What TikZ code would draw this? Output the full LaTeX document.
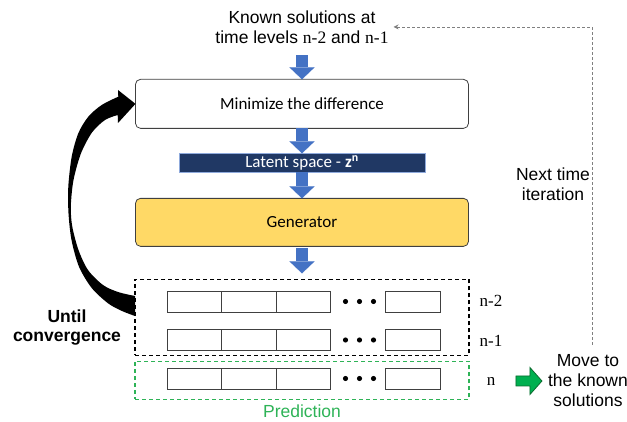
\documentclass[tikz,border=0pt]{standalone}
\usepackage{fontspec}
\setmainfont{Liberation Sans}
\newfontfamily\calibrifont{Carlito}
\newfontfamily\timesfont{Liberation Serif}
\usepackage{tikz}
\usetikzlibrary{arrows.meta,positioning,calc}
\definecolor{flowblue}{HTML}{4472C4}
\definecolor{latentnavy}{HTML}{203864}
\definecolor{latentedge}{HTML}{8FAADC}
\definecolor{genyellow}{HTML}{FFD966}
\definecolor{boxedge}{HTML}{404040}
\definecolor{predgreen}{HTML}{2EB357}
\definecolor{gofill}{HTML}{00B050}
\definecolor{goedge}{HTML}{0B6B2E}
\definecolor{itergray}{HTML}{808080}

\begin{document}
\begin{tikzpicture}[
  x=1pt, y=1pt,
  node distance=25pt,
  txt/.style={inner sep=0pt, outer sep=0pt, align=center, font=\fontsize{17.5}{20}\selectfont},
  procbox/.style={rectangle, draw=boxedge, line width=0.8pt, rounded corners=5pt, minimum width=333pt, inner sep=0pt, outer sep=0pt, font=\calibrifont\fontsize{17}{20}\selectfont},
  latentbar/.style={rectangle, draw=latentedge, line width=0.6pt, fill=latentnavy, text=white, minimum width=246pt, minimum height=19pt, inner sep=0pt, outer sep=0pt, font=\calibrifont\fontsize{17}{20}\selectfont},
  solframe/.style={rectangle, dash pattern=on 4pt off 3pt, line width=1.2pt, minimum width=334pt, inner sep=0pt, outer sep=0pt},
  slot/.style={rectangle, draw=boxedge, line width=0.9pt, minimum width=54.6pt, minimum height=21pt, inner sep=0pt, outer sep=0pt},
  lvl/.style={inner sep=0pt, anchor=base, font=\timesfont\fontsize{17}{20}\selectfont},
  flow/.style={draw=flowblue, line width=12pt, -{Triangle[length=12pt, width=25pt, line width=0.1pt]}},
  iterline/.style={draw=itergray, line width=0.8pt, dash pattern=on 3pt off 2pt, -{Stealth[length=5pt, width=5pt]}},
  gostep/.style={draw=goedge, fill=gofill, line width=0.8pt, line join=miter},
  looparrow/.style={fill=black}
]
\useasboundingbox (0,0) rectangle (627,421);

% Main column
\node[txt, anchor=north] (known) at (302,410.5) {Known solutions at\\time levels {\timesfont n-2} and {\timesfont n-1}};
\node[procbox, fill=white, minimum height=49pt, below=36pt of known] (minim) {Minimize the difference};
\node[latentbar, below=25pt of minim] (latent) {Latent space - \textbf{z\textsuperscript{n}}};
\node[procbox, fill=genyellow, minimum height=48pt, below=26pt of latent] (gen) {Generator};
\node[solframe, draw=black, minimum height=76pt, below=33pt of gen] (solved) {};
\node[solframe, draw=predgreen, minimum height=38pt, below=6pt of solved] (pred) {};
\node[inner sep=0pt, outer sep=0pt, text=predgreen, font=\fontsize{17.5}{20}\selectfont, below=5pt of pred] (predtxt) {Prediction};

% Solution rows
\foreach \r/\yy in {2/119.5, 1/81, 0/42.5} {
  \foreach \i in {0,1,2,4}
    \node[slot] (c\r\i) at ({167+54.6*(\i+0.5)},\yy) {};
  \foreach \k in {-1,0,1}
    \fill ({359.5+14*\k},\yy) circle (2.6pt);
}

% Time levels
\node[lvl] (lvl2) at (491,114) {n-2};
\node[lvl] (lvl1) at (491,75) {n-1};
\node[lvl] (lvl0) at (491,36) {n};

% Side texts
\node[txt, anchor=north] (move) at (588,66.2) {Move to\\the known\\solutions};
\node[txt, anchor=north] (next) at (553,253.2) {Next time\\iteration};
\node[txt, anchor=north, font=\bfseries\fontsize{17.5}{19}\selectfont] (until) at (67,111) {Until\\convergence};

% Arrows - main flow
\draw[flow, shorten <=12pt] (known.south) -- (minim.north);
\draw[flow] (minim.south) -- (latent.north);
\draw[flow] (latent.south) -- (gen.north);
\draw[flow, shorten <=2pt, shorten >=6pt] (gen.south) -- (solved.north);

% Arrows - next time iteration
\draw[gostep] ([xshift=20.5pt]lvl0.east) -- ++(0,5) -- ++(14,0) -- ++(0,8.5) -- ++(12,-13.5) -- ++(-12,-13.5) -- ++(0,8.5) -- ++(-14,0) -- cycle;
\draw[iterline] ([xshift=4pt,yshift=10pt]move.north) |- ([xshift=5pt]known.east);

% Until convergence loop
\fill[looparrow] (minim.west) -- (118,331) -- plot[smooth] coordinates {(118.3,324.3) (101.7,316) (88.3,304.3) (78.3,287.7) (71.7,264.3) (68.3,234.3) (68.5,207.7) (71.5,181) (79,154.3) (91.7,133) (108.3,117.5) (122,110) (135,105)}
  -- plot[smooth] coordinates {(135,125) (118,129) (103,136) (88,151) (78.5,171) (72.3,194.3) (70.8,214.3) (73.5,241) (81,267.7) (92,288.5) (105,301) (117.7,306)} -- (118,298) -- cycle;

\end{tikzpicture}
\end{document}
